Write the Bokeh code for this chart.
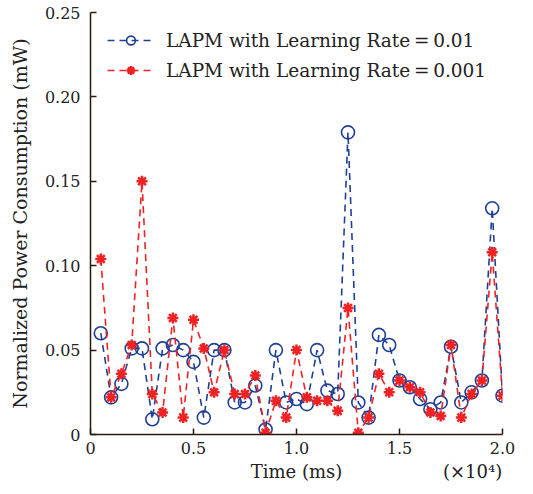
from bokeh.plotting import figure
from bokeh.models import Range1d, FixedTicker, Legend, LegendItem, LinearAxis
from bokeh.embed import file_html
from bokeh.resources import INLINE

# Time in units of 10^4 ms
time_x = [0.05, 0.10, 0.15, 0.20, 0.25, 0.30, 0.35, 0.40, 0.45, 0.50,
          0.55, 0.60, 0.65, 0.70, 0.75, 0.80, 0.85, 0.90, 0.95, 1.00,
          1.05, 1.10, 1.15, 1.20, 1.25, 1.30, 1.35, 1.40, 1.45, 1.50,
          1.55, 1.60, 1.65, 1.70, 1.75, 1.80, 1.85, 1.90, 1.95, 2.00]

lr_001 = [0.060, 0.022, 0.030, 0.051, 0.051, 0.009, 0.051, 0.053, 0.050, 0.043,
          0.010, 0.050, 0.050, 0.019, 0.019, 0.029, 0.003, 0.050, 0.019, 0.021,
          0.018, 0.050, 0.026, 0.024, 0.179, 0.019, 0.010, 0.059, 0.053, 0.032,
          0.028, 0.021, 0.015, 0.019, 0.052, 0.019, 0.025, 0.032, 0.134, 0.023]

lr_0001 = [0.104, 0.022, 0.036, 0.053, 0.150, 0.024, 0.013, 0.069, 0.010, 0.068,
           0.051, 0.025, 0.050, 0.024, 0.024, 0.035, 0.001, 0.020, 0.010, 0.050,
           0.022, 0.020, 0.020, 0.014, 0.075, 0.001, 0.010, 0.036, 0.025, 0.032,
           0.028, 0.025, 0.013, 0.011, 0.053, 0.010, 0.024, 0.032, 0.108, 0.023]

x_ticks = [0, 0.5, 1.0, 1.5, 2.0]
x_tick_labels = ["0", "0.5", "1.0", "1.5", "2.0"]
y_ticks = [0, 0.05, 0.10, 0.15, 0.20, 0.25]
y_tick_labels = ["0", "0.05", "0.10", "0.15", "0.20", "0.25"]

legend_labels = ["LAPM with Learning Rate\u2009=\u20090.01",
                 "LAPM with Learning Rate\u2009=\u20090.001"]
x_title = "Time (ms)"
x_scale_note = "(\u00d710\u2074)"
y_title = "Normalized Power Consumption (mW)"

FONT = "DejaVu Serif"
AXIS_COLOR = "#2a1a12"
TEXT_COLOR = "#222222"
BLUE = "#1f3f96"
RED = "#ee2222"

p = figure(width=525, height=486, output_backend="svg", toolbar_location=None,
           x_range=Range1d(0, 2.0), y_range=Range1d(0, 0.25),
           min_border_left=90, min_border_right=23, min_border_top=12,
           min_border_bottom=52)
p.outline_line_color = None
p.grid.visible = False
p.background_fill_color = "white"

for ax in (p.xaxis[0], p.yaxis[0]):
    ax.axis_line_color = AXIS_COLOR
    ax.axis_line_width = 1.5
    ax.major_tick_line_color = AXIS_COLOR
    ax.major_tick_line_width = 1.5
    ax.major_tick_in = 6
    ax.major_tick_out = 0
    ax.minor_tick_line_color = None
    ax.major_label_text_font = FONT
    ax.major_label_text_font_size = "16px"
    ax.major_label_text_color = TEXT_COLOR
    ax.axis_label_text_font = FONT
    ax.axis_label_text_font_size = "19px"
    ax.axis_label_text_font_style = "normal"
    ax.axis_label_text_color = TEXT_COLOR

p.xaxis.ticker = FixedTicker(ticks=x_ticks)
p.xaxis.major_label_overrides = dict(zip(x_ticks, x_tick_labels))
p.yaxis.ticker = FixedTicker(ticks=y_ticks)
p.yaxis.major_label_overrides = dict(zip(y_ticks, y_tick_labels))
p.yaxis.axis_label = y_title
p.xaxis.major_label_standoff = 7
p.yaxis.major_label_standoff = 10
p.yaxis.axis_label_standoff = 11

# second (label-only) axis carrying the x title and the scale note on one row
note_ticks = [1.0, 1.855]
lab_axis = LinearAxis(ticker=FixedTicker(ticks=note_ticks),
                      major_label_overrides={note_ticks[0]: x_title,
                                             note_ticks[1]: x_scale_note})
lab_axis.axis_line_color = None
lab_axis.major_tick_line_color = None
lab_axis.minor_tick_line_color = None
lab_axis.major_tick_in = 0
lab_axis.major_tick_out = 0
lab_axis.major_label_standoff = 4
lab_axis.major_label_text_font = FONT
lab_axis.major_label_text_font_size = "18px"
lab_axis.major_label_text_color = TEXT_COLOR
p.add_layout(lab_axis, "below")

l1 = p.line(time_x, lr_001, line_color=BLUE, line_width=1.6, line_dash="7 5")
s1 = p.scatter(time_x, lr_001, marker="circle", size=13, fill_color=None,
               line_color=BLUE, line_width=1.6)
l2 = p.line(time_x, lr_0001, line_color=RED, line_width=1.6, line_dash="7 5")
s2 = p.scatter(time_x, lr_0001, marker="asterisk", size=11, line_color=RED,
               line_width=2.5)

legend = Legend(items=[LegendItem(label=legend_labels[0], renderers=[l1, s1]),
                       LegendItem(label=legend_labels[1], renderers=[l2, s2])],
                location="top_left")
legend.background_fill_alpha = 0
legend.border_line_alpha = 0
legend.label_text_font = FONT
legend.label_text_font_size = "18.5px"
legend.label_text_color = TEXT_COLOR
legend.glyph_width = 47
legend.glyph_height = 22
legend.label_height = 22
legend.spacing = 8
legend.label_standoff = 12
legend.margin = 8
legend.padding = 9
p.add_layout(legend)

open("out.html", "w").write(file_html(p, INLINE))
